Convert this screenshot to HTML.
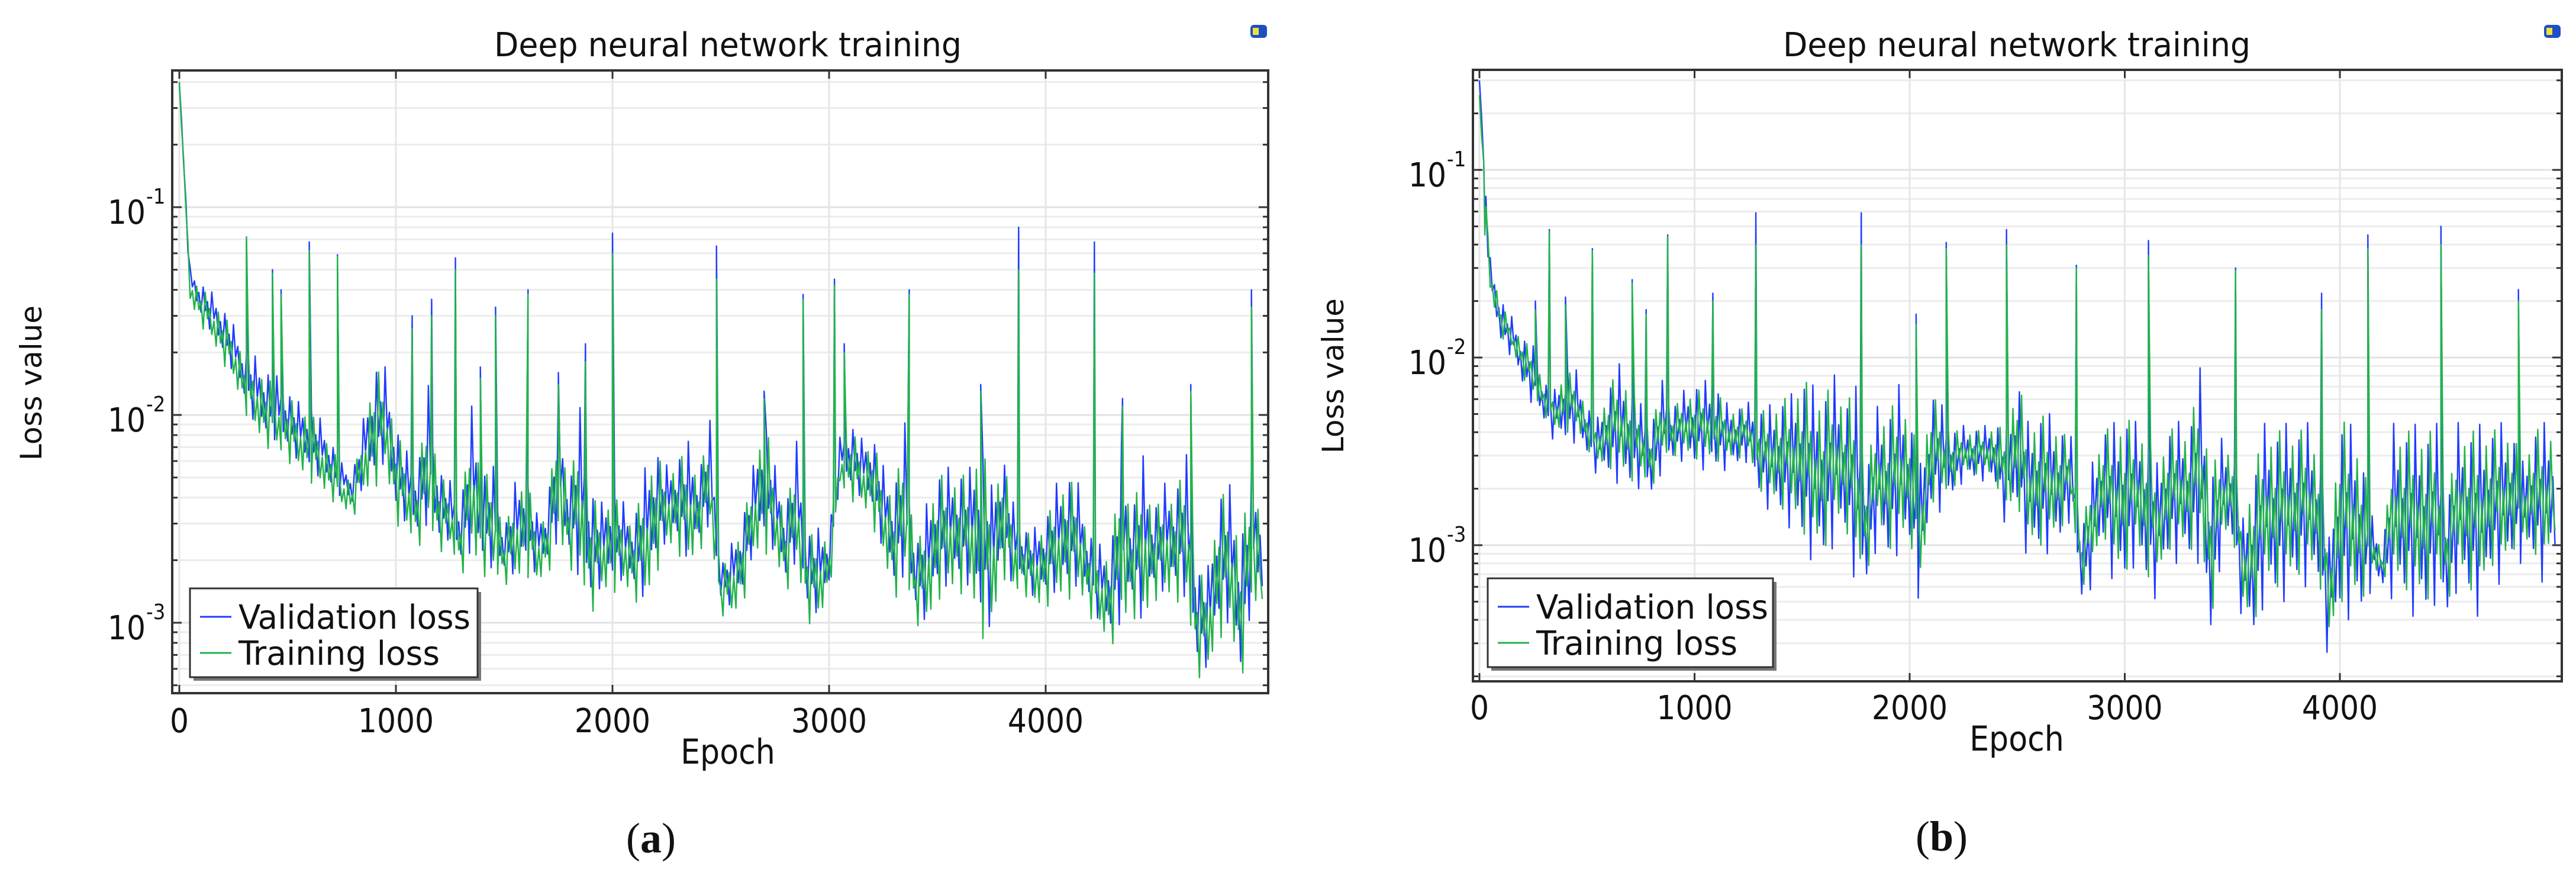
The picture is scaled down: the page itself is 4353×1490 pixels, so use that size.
<!DOCTYPE html>
<html>
<head>
<meta charset="utf-8">
<style>
html,body{margin:0;padding:0;background:#fff;}
svg{display:block;}
text{font-family:"DejaVu Sans Condensed","DejaVu Sans","Liberation Sans",sans-serif;fill:#111;}
</style>
</head>
<body>
<svg id="fig" width="4353" height="1490" viewBox="0 0 4353 1490" xmlns="http://www.w3.org/2000/svg">
  <g id="chartA"></g>
  <g id="chartB"></g>
  <text x="1100" y="1440" text-anchor="middle" font-size="72" style="font-family:'Liberation Serif',serif">(<tspan font-weight="bold">a</tspan>)</text>
  <text x="3281" y="1437" text-anchor="middle" font-size="72" style="font-family:'Liberation Serif',serif">(<tspan font-weight="bold">b</tspan>)</text>
</svg>
<script>
// Loss values in milli-units (value * 1e-3).
// Band envelopes (local highs / lows of the noisy trace) every 50 epochs, 0..5000.
const epochStep = 50;
const xTicks = [0, 1000, 2000, 3000, 4000];
const yTickExps = [-1, -2, -3];
const seriesNames = ["Validation loss", "Training loss"];

// ---- Chart (a) ----
const valHiA = [400,52,45,40,35,28,22,20,18,16,
14,12,12,10,8,6,5.5,10,20,18,
10,7,6,15,6,5,4,12,6,6,
3,5,6,3.5,4,14,5,12,5,4,
5,4,3.5,6,8,6,7,8,6,10,
2,2.5,3.5,6,12,6,4,8,3,3,
3,8,10,8,9,6,5,10,2.5,4,
6,6,6,6,10,5,8,4,3,3,
3.5,5,6,5,3,2.5,2.5,8,4,7,
4,5,5,7,2,2,5,5,3,6,
4];
const valLoA = [400,38,30,25,20,16,12,9,8,7.5,
7,6,5.5,5,4.5,4,3.7,4.5,5,6,
3.5,3,2.7,3,2.5,2.5,2,2.2,2,1.8,
1.8,1.7,2,1.7,2,2.5,2.2,1.6,1.3,1.5,
1.6,1.6,1.5,1.3,2,2.5,2.5,2,2.5,3,
1.3,1.2,1.4,2.2,2.5,2.2,1.6,2,1.2,1.1,
1.5,5,4.5,4,3.5,2.2,1.5,1.7,1.2,1.0,
1.5,1.5,1.6,1.5,1.0,0.95,2,1.5,1.6,1.3,
1.4,1.4,1.5,1.5,1.3,1.0,0.9,1.0,1.3,1.0,
1.5,1.4,1.5,1.3,0.65,0.6,1.0,1.0,0.55,1.2,
1.5];
const trainHiA = [400,48,42,37,32,26,20,18,16,14,
13,11,11,9,7.5,5.5,5,9,18,16,
9,6.5,5.5,13,5.5,4.5,3.6,11,5.5,5.5,
2.8,4.5,5.5,3.2,3.6,12,4.5,11,4.5,3.6,
4.5,3.6,3.2,5.5,7,5.5,6.5,7,5.5,9,
1.8,2.3,3.2,5.5,11,5.5,3.6,7,2.8,2.8,
2.8,7,9,7,8,5.5,4.5,9,2.3,3.6,
5.5,5.5,5.5,5.5,9,4.5,7,3.6,2.8,2.8,
3.2,4.5,5.5,4.5,2.8,2.3,2.3,7,3.6,6.5,
3.6,4.5,4.5,6.5,1.8,1.8,4.5,4.5,2.8,5.5,
3.6];
const trainLoA = [400,34,27,22,18,14,10.5,8,7,6.5,
6,5.2,4.8,4.3,3.9,3.5,3.2,3.9,4.4,5.2,
3,2.6,2.3,2.6,2.2,2.2,1.7,1.9,1.7,1.55,
1.55,1.45,1.7,1.45,1.7,2.2,1.9,1.4,1.1,1.3,
1.4,1.4,1.3,1.1,1.7,2.2,2.2,1.7,2.2,2.6,
1.1,1.0,1.2,1.9,2.2,1.9,1.4,1.7,1.0,0.95,
1.3,4.4,3.9,3.5,3,1.9,1.3,1.45,1.0,0.85,
1.3,1.3,1.4,1.3,0.85,0.8,1.7,1.3,1.4,1.1,
1.2,1.2,1.3,1.3,1.1,0.85,0.78,0.85,1.1,0.85,
1.3,1.2,1.3,1.1,0.55,0.52,0.85,0.85,0.5,1.0,
1.3];
const spikeEpochsA = [310,430,470,600,730,1075,1165,1275,1390,1460,1610,1750,1875,2000,2480,2700,2880,3025,3070,3370,3700,3875,4225,4355,4670,4950];
const valSpikesA   = [70,50,40,68,59,30,36,57,17,33,40,16,22,75,65,13,38,45,22,40,14,80,68,12,14,40];
const trainSpikesA = [72,48,38,62,58,26,30,50,15,30,38,14,18,60,45,12,36,42,20,38,13,50,48,11,13,33];

// ---- Chart (b) ----
const valHiB = [300,35,22,17,14,12,8,7,10,9,
6,5,8,10,8,6,5,8,6,7,
8,8,8,6,6,6,6,6,7,7,
10,8,8,9,7,8,3,6,6,8,
6,3,8,6,4.5,4.5,4.5,4.5,5,4.5,
10,5,6,5.5,5,4,1.3,3,5,5,
6,5,5,3,5,5,5,10,3,4,
4,1.5,3,5,5,5,5,5,4,1.2,
6,5,4,1.5,1,5,5,5,5,5,
2,5,5,5,5,5,5,3,5,5,
5];
const valLoB = [300,20,12,10,7,5.5,4.5,3.5,3.5,3.5,
3,2.3,2.3,2.1,2,2,1.8,2.5,2.8,2.8,
2.6,2.5,2.5,2.5,2.6,2.8,1.8,1.5,1.4,1.2,
1,0.8,0.8,1,1.1,0.6,0.6,1,0.8,0.9,
0.95,0.45,1.5,1.5,1.8,2.2,2.2,2.2,2,1.2,
1.5,0.8,0.9,0.9,1,1.4,0.5,0.6,1,0.6,
0.6,0.8,0.6,0.5,0.8,0.8,0.8,0.8,0.3,0.9,
1,0.35,0.3,0.5,0.5,0.5,0.6,0.6,0.6,0.22,
0.4,0.4,0.4,0.6,0.6,0.5,0.5,0.4,0.4,0.5,
0.4,0.6,0.5,0.4,0.7,0.6,0.8,0.8,0.8,0.6,
1];
const trainHiB = [250,32,20,15,13,11,7.5,6.5,9,8,
5.5,4.5,7.5,9,7.5,5.5,4.5,7.5,5.5,6.5,
7,7,7,5.5,5.5,5.5,5.5,5.5,6.5,6.5,
9,7,7,8,6.5,7,2.8,5.5,5.5,7,
5.5,2.8,7,5.5,4.2,4.2,4.2,4.2,4.6,4.2,
9,4.5,5.5,5,4.5,3.6,1.2,2.8,4.5,4.5,
5.5,4.5,4.5,2.8,4.5,4.5,4.5,9,2.8,3.6,
3.6,1.4,2.8,4.5,4.5,4.5,4.5,4.5,3.6,1.1,
5.5,4.5,3.6,1.4,0.9,4.5,4.5,4.5,4.5,4.5,
1.8,4.5,4.5,4.5,4.5,4.5,4.5,2.8,4.5,4.5,
4.5];
const trainLoB = [250,22,13,11,8,6,5,4,4,4,
3.3,2.6,2.6,2.4,2.2,2.2,2,2.8,3,3,
2.9,2.8,2.8,2.8,2.9,3,2,1.7,1.6,1.4,
1.2,0.95,0.95,1.2,1.3,0.7,0.7,1.2,0.95,1,
1.1,0.55,1.7,1.7,2,2.4,2.4,2.4,2.2,1.4,
1.7,0.95,1,1,1.2,1.6,0.6,0.7,1.2,0.7,
0.7,0.95,0.7,0.6,0.95,0.95,0.95,0.95,0.38,1,
1.2,0.42,0.38,0.6,0.6,0.6,0.7,0.7,0.7,0.28,
0.5,0.5,0.5,0.7,0.7,0.6,0.6,0.5,0.5,0.6,
0.5,0.7,0.6,0.5,0.8,0.7,0.95,0.95,0.95,0.7,
1.2];
const spikeEpochsB = [25,260,325,400,525,710,775,875,1085,1285,1775,2030,2170,2450,2775,3110,3515,3915,4130,4470,4830];
const valSpikesB   = [52,20,48,21,38,26,18,45,22,59,59,17,41,48,31,42,30,22,45,50,23];
const trainSpikesB = [45,18,47,19,37,25,17,44,20,40,40,15,38,40,30,35,29,18,38,40,20];

const NS = "http://www.w3.org/2000/svg";
function mk(parent, tag, attrs, txt) {
  const e = document.createElementNS(NS, tag);
  for (const k in attrs) e.setAttribute(k, attrs[k]);
  if (txt !== undefined) e.textContent = txt;
  parent.appendChild(e);
  return e;
}

// Render a noisy trace inside the low/high envelope (irregular oscillation pattern),
// with spikes inserted at their epochs.
const wigglePattern = [0.1, 0.85, 0.3, 0.6, 0.0, 0.95, 0.4, 0.7, 0.2, 0.55];
function tracePoints(hi, lo, spikeE, spikeV, phase) {
  const pts = [];
  const sub = 5;
  let c = phase;
  for (let i = 0; i < hi.length - 1; i++) {
    for (let k = 0; k < sub; k++) {
      const t = k / sub;
      const lh = Math.log10(hi[i]) * (1 - t) + Math.log10(hi[i + 1]) * t;
      const ll = Math.log10(lo[i]) * (1 - t) + Math.log10(lo[i + 1]) * t;
      const f = wigglePattern[c % wigglePattern.length];
      c++;
      pts.push([(i + t) * epochStep, Math.pow(10, ll + (lh - ll) * f)]);
    }
  }
  pts.push([(hi.length - 1) * epochStep, lo[lo.length - 1]]);
  spikeE.forEach((e, j) => pts.push([e, spikeV[j]]));
  pts.sort((a, b) => a[0] - b[0]);
  return pts;
}

function drawChart(g, geo, S) {
  const L = geo.left, R = geo.right, T = geo.top, B = geo.bottom;
  const xScale = e => geo.x0 + (e / 1000) * geo.xPer1000;
  const yScale = v => geo.yDec1 + (-1 - Math.log10(v)) * geo.decade;
  const yMinLog = -1 - (B - geo.yDec1) / geo.decade;
  const yMaxLog = -1 + (geo.yDec1 - T) / geo.decade;

  const grid = mk(g, "g", {});
  
  
  const ticks = mk(g, "g", {});
  
  
  for (let d = Math.floor(yMinLog); d <= Math.ceil(yMaxLog); d++) {
    for (let m = 1; m <= 9; m++) {
      const v = m * Math.pow(10, d);
      const lv = Math.log10(v);
      if (lv < yMinLog || lv > yMaxLog) continue;
      const y = yScale(v);
      mk(grid, "line", {x1: L, x2: R, y1: y, y2: y, stroke: m === 1 ? "#e2e2e2" : "#ececec", "stroke-width": 3});
      const len = m === 1 ? 16 : 9;
      mk(ticks, "line", {x1: L, x2: L + len, y1: y, y2: y, stroke: "#333", "stroke-width": 3});
      mk(ticks, "line", {x1: R, x2: R - len, y1: y, y2: y, stroke: "#333", "stroke-width": 3});
    }
  }
  xTicks.forEach(t => {
    const x = xScale(t);
    mk(grid, "line", {x1: x, x2: x, y1: T, y2: B, stroke: "#e6e6e6", "stroke-width": 3});
    mk(ticks, "line", {x1: x, x2: x, y1: B, y2: B - 14, stroke: "#333", "stroke-width": 3});
    mk(ticks, "line", {x1: x, x2: x, y1: T, y2: T + 14, stroke: "#333", "stroke-width": 3});
    const lbl = mk(g, "text", {x: x, y: geo.xLabelY, "text-anchor": "middle", "font-size": 56}, String(t));
    
    
  });
  yTickExps.forEach(ex => {
    const y = yScale(Math.pow(10, ex));
    const lbl = mk(g, "text", {x: L - 45, y: y + 28, "text-anchor": "end", "font-size": 56}, "10");
    
    
    const sup = mk(g, "text", {x: L - 44, y: y - 6, "text-anchor": "start", "font-size": 36}, String(ex));
    
    
  });

  const cid = g.id + "-clip";
  const cp = mk(g, "clipPath", {id: cid});
  mk(cp, "rect", {x: L, y: T, width: R - L, height: B - T});

  const mkPath = pts => pts.map((p, i) => (i ? "L" : "M") + xScale(p[0]).toFixed(1) + "," + yScale(p[1] * 1e-3).toFixed(1)).join("");
  const pv = mk(g, "path", {d: mkPath(tracePoints(S.valHi, S.valLo, S.spikeE, S.valSp, 0)), fill: "none", stroke: "#1f3cff", "stroke-width": 2.4, "stroke-linejoin": "round", "clip-path": "url(#" + cid + ")"});
  
  
  const pt = mk(g, "path", {d: mkPath(tracePoints(S.trHi, S.trLo, S.spikeE, S.trSp, 3)), fill: "none", stroke: "#22b34a", "stroke-width": 2.4, "stroke-linejoin": "round", "clip-path": "url(#" + cid + ")"});
  
  

  const fr = mk(g, "rect", {x: L, y: T, width: R - L, height: B - T, fill: "none", stroke: "#333", "stroke-width": 4});
  
  

  const ti = mk(g, "text", {x: geo.cx, y: geo.titleY, "text-anchor": "middle", "font-size": 56, textLength: 790, lengthAdjust: "spacingAndGlyphs"}, "Deep neural network training");
  
  
  const xl = mk(g, "text", {x: geo.cx, y: geo.xTitleY, "text-anchor": "middle", "font-size": 58}, "Epoch");
  
  
  const yl = mk(g, "text", {x: 0, y: 0, "text-anchor": "middle", "font-size": 50, style: "font-family:'DejaVu Sans',sans-serif", transform: "translate(" + geo.yTitleX + "," + geo.yTitleY + ") rotate(-90)"}, "Loss value");
  
  

  const ic = mk(g, "g", {});
  
  
  mk(ic, "rect", {x: geo.iconX - 14, y: 42, width: 28, height: 22, rx: 6, fill: "#1d4fc4"});
  mk(ic, "rect", {x: geo.iconX - 10, y: 47, width: 10, height: 12, fill: "#f2e03a"});

  const lg = mk(g, "g", {});
  
  
  mk(lg, "rect", {x: geo.legX + 6, y: geo.legY + 6, width: geo.legW, height: geo.legH, fill: "#777"});
  mk(lg, "rect", {x: geo.legX, y: geo.legY, width: geo.legW, height: geo.legH, fill: "#fff", stroke: "#333", "stroke-width": 3});
  const cols = ["#1f3cff", "#22b34a"];
  seriesNames.forEach((n, i) => {
    const cy = geo.legY + 48 + i * 61;
    const e = mk(lg, "g", {});
    
    
    mk(e, "line", {x1: geo.legX + 17, x2: geo.legX + 70, y1: cy, y2: cy, stroke: cols[i], "stroke-width": 3});
    mk(e, "text", {x: geo.legX + 82, y: cy + 20, "font-size": 56, textLength: i === 0 ? 392 : 340, lengthAdjust: "spacingAndGlyphs"}, n);
  });
}

drawChart(document.getElementById("chartA"), {
  left: 291, right: 2143, top: 119, bottom: 1171,
  x0: 303, xPer1000: 366, yDec1: 350, decade: 351,
  cx: 1230, titleY: 95, xLabelY: 1237, xTitleY: 1290, yTitleX: 70, yTitleY: 647,
  iconX: 2127, legX: 321, legY: 994, legW: 486, legH: 150
}, {valHi: valHiA, valLo: valLoA, trHi: trainHiA, trLo: trainLoA, spikeE: spikeEpochsA, valSp: valSpikesA, trSp: trainSpikesA});

drawChart(document.getElementById("chartB"), {
  left: 2489, right: 4329, top: 118, bottom: 1151,
  x0: 2500, xPer1000: 363.5, yDec1: 287, decade: 317,
  cx: 3408, titleY: 95, xLabelY: 1215, xTitleY: 1268, yTitleX: 2270, yTitleY: 635,
  iconX: 4313, legX: 2514, legY: 977, legW: 482, legH: 150
}, {valHi: valHiB, valLo: valLoB, trHi: trainHiB, trLo: trainLoB, spikeE: spikeEpochsB, valSp: valSpikesB, trSp: trainSpikesB});
</script>
</body>
</html>
